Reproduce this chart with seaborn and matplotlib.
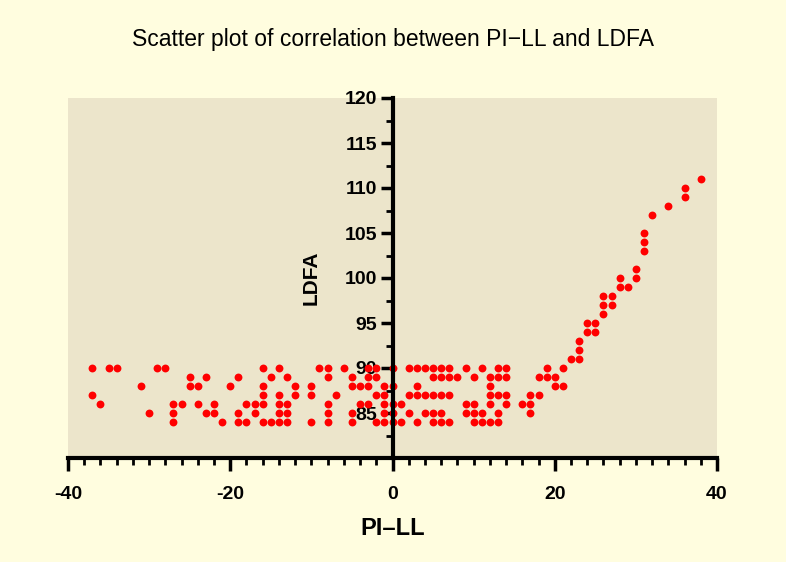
import pandas as pd
import numpy as np
import matplotlib
matplotlib.use('Agg')
import matplotlib.pyplot as plt
import seaborn as sns
from matplotlib.ticker import MultipleLocator

# PI-LL values for each LDFA level
x_90 = [-37, -35, -34, -29, -28, -16, -14, -9, -8, -6, -3, -2, 0, 2, 3, 4, 5, 6, 7, 9, 11, 13, 14, 19, 21]
x_89 = [-25, -23, -19, -15, -13, -8, -5, -3, -2, 5, 6, 7, 8, 10, 12, 13, 14, 18, 19, 20]
x_88 = [-31, -25, -24, -20, -16, -12, -10, -5, -4, -3, -1, 0, 3, 12, 20, 21]
x_87 = [-37, -16, -14, -12, -10, -7, -2, -1, 2, 3, 4, 5, 6, 7, 12, 13, 14, 17, 18]
x_86 = [-36, -27, -26, -24, -22, -18, -17, -16, -14, -13, -8, -4, -3, -1, 0, 1, 9, 10, 12, 14, 16, 17]
x_85 = [-30, -27, -23, -22, -19, -17, -14, -13, -8, -5, -1, 0, 2, 4, 5, 6, 9, 10, 11, 13, 17]
x_84 = [-27, -21, -19, -18, -16, -15, -14, -13, -10, -8, -5, -2, -1, 0, 1, 3, 5, 6, 7, 10, 11, 12, 13]

# the rising part above 90
upper_x = [22, 23, 23, 23, 24, 25, 24, 25, 26, 26, 27, 26, 27, 28, 29, 28, 30, 30, 31, 31, 31, 32, 34, 36, 36, 38]
upper_y = [91, 91, 92, 93, 94, 94, 95, 95, 96, 97, 97, 98, 98, 99, 99, 100, 100, 101, 103, 104, 105, 107, 108, 109, 110, 111]

rows = {90: x_90, 89: x_89, 88: x_88, 87: x_87, 86: x_86, 85: x_85, 84: x_84}
pi_ll = []
ldfa = []
for lev, xs in rows.items():
    pi_ll += xs
    ldfa += [lev] * len(xs)
pi_ll += upper_x
ldfa += upper_y
df = pd.DataFrame({'PI-LL': pi_ll, 'LDFA': ldfa})

sns.set_theme(style='ticks')
plt.rcParams['font.family'] = ['Liberation Sans', 'DejaVu Sans']
plt.rcParams['axes.unicode_minus'] = False
plt.rcParams['text.color'] = 'black'
plt.rcParams['axes.labelcolor'] = 'black'
plt.rcParams['xtick.color'] = 'black'
plt.rcParams['ytick.color'] = 'black'

fig = plt.figure(figsize=(7.86, 5.62), dpi=100, facecolor='#fffddf')
ax = fig.add_axes([68 / 786, 104 / 562, 649 / 786, 360 / 562])
ax.set_facecolor('#ece5cb')

sns.scatterplot(data=df, x='PI-LL', y='LDFA', color='#ff0000', s=32, linewidth=0, ax=ax)

ax.set_xlim(-40, 40)
ax.set_ylim(80, 120)

# y axis crosses at x = 0
ax.spines['left'].set_position(('data', 0))
ax.spines['right'].set_visible(False)
ax.spines['top'].set_visible(False)
for sp in ['left', 'bottom']:
    ax.spines[sp].set_linewidth(3)
    ax.spines[sp].set_color('black')

ax.xaxis.set_major_locator(MultipleLocator(20))
ax.xaxis.set_minor_locator(MultipleLocator(2))
ax.yaxis.set_major_locator(MultipleLocator(5))
ax.yaxis.set_minor_locator(MultipleLocator(2.5))
ax.set_yticks([85, 90, 95, 100, 105, 110, 115, 120])

ax.tick_params(axis='both', which='major', length=9, width=2.5, labelsize=14, colors='black')
ax.tick_params(axis='both', which='minor', length=5, width=2, color='black')
ax.tick_params(axis='x', which='major', pad=11)
ax.tick_params(axis='y', which='major', pad=2)
for lab in ax.get_xticklabels() + ax.get_yticklabels():
    lab.set_fontweight('bold')

ax.set_xlabel('PI–LL', fontsize=17, fontweight='bold', labelpad=10, color='black')
ax.set_ylabel('LDFA', fontsize=15, fontweight='bold', color='black')
ax.yaxis.set_label_coords(0.39, 0.5)

fig.text(0.5, 0.93, 'Scatter plot of correlation between PI−LL and LDFA',
         ha='center', va='center', fontsize=16.5, color='black')

plt.savefig('out.png', dpi=100, facecolor=fig.get_facecolor())
